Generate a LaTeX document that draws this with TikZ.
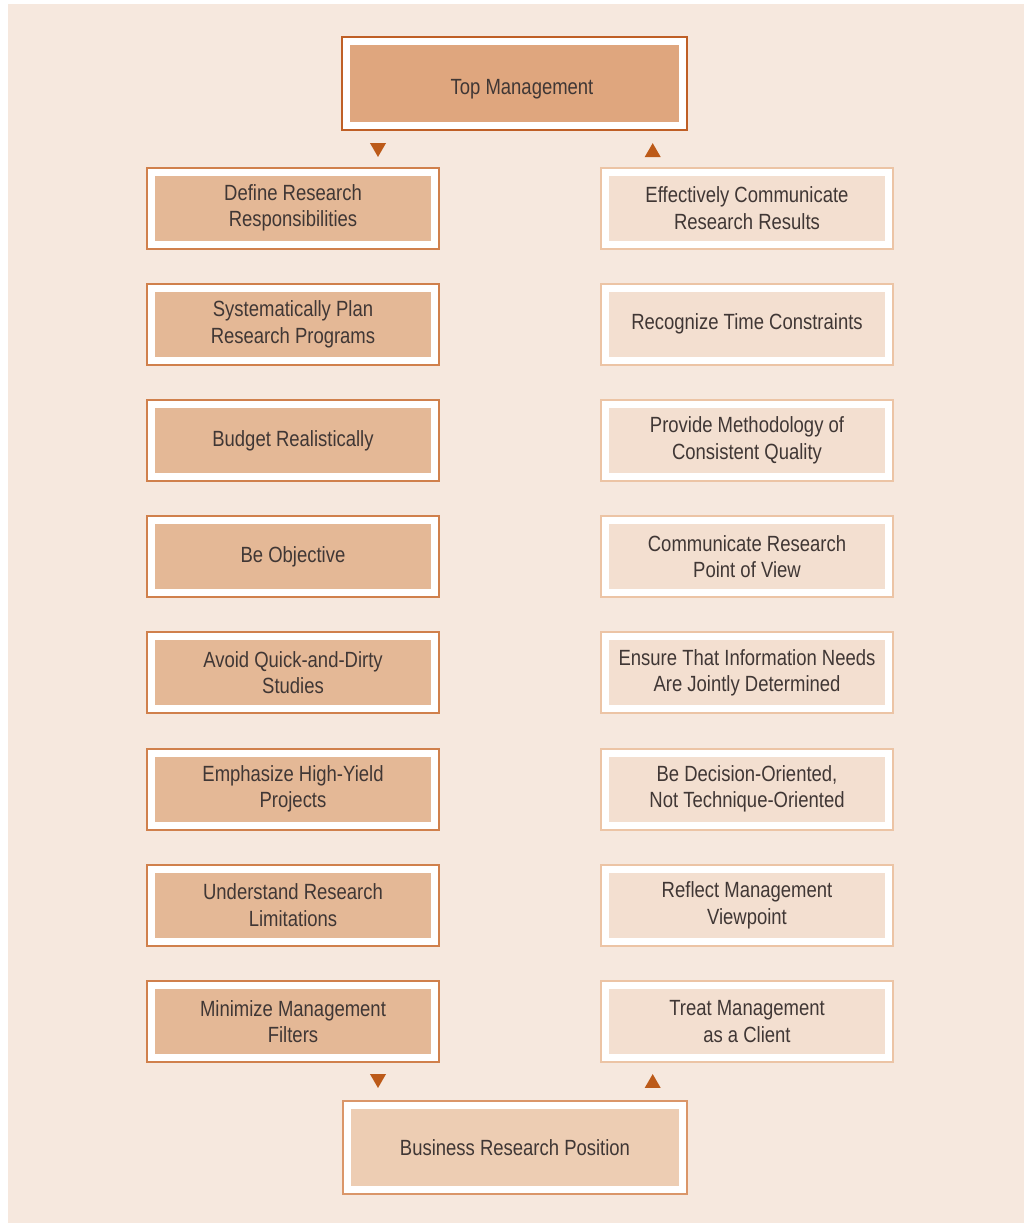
\documentclass[tikz,border=0pt]{standalone}
\usepackage{fontspec}
\setmainfont[FakeStretch=0.84]{Liberation Sans}
\usetikzlibrary{shapes.geometric}
\definecolor{bgcol}{HTML}{F6E8DE}
\definecolor{txt}{HTML}{403735}
\definecolor{topfill}{HTML}{DFA67E}
\definecolor{topborder}{HTML}{BF5F26}
\definecolor{leftfill}{HTML}{E4B896}
\definecolor{leftborder}{HTML}{D0804C}
\definecolor{rightfill}{HTML}{F3DFD0}
\definecolor{rightborder}{HTML}{ECC4A5}
\definecolor{botfill}{HTML}{EDCDB3}
\definecolor{botborder}{HTML}{DA9669}
\definecolor{arrowcol}{HTML}{BC5A19}
\tikzset{
  boxbase/.style={rectangle, minimum width=283bp, minimum height=72bp, inner sep=0pt,
    line width=7bp, draw=white, align=center, text=txt,
    font=\fontsize{22bp}{26.5bp}\selectfont},
  leftbox/.style={boxbase, fill=leftfill, preaction={draw=leftborder, line width=11bp}},
  rightbox/.style={boxbase, fill=rightfill, preaction={draw=rightborder, line width=11bp}},
  topbox/.style={boxbase, minimum width=336bp, minimum height=84bp, fill=topfill,
    preaction={draw=topborder, line width=11bp}},
  botbox/.style={boxbase, minimum width=335bp, minimum height=84bp, fill=botfill,
    preaction={draw=botborder, line width=11bp}},
  tri/.style={regular polygon, regular polygon sides=3, minimum size=18.5bp,
    inner sep=0pt, outer sep=0pt, fill=arrowcol, draw=none},
  tridown/.style={tri, shape border rotate=180},
}
\begin{document}
\begin{tikzpicture}[x=1bp,y=-1bp]
\useasboundingbox (0,0) rectangle (1027,1223);
\fill[bgcol] (8,4) rectangle (1024,1223);

\node[topbox] (top) at (514.5,83.5) {\raisebox{-5.5bp}[\height][\depth]{\hspace*{15bp}Top Management}};
\node[botbox] (bot) at (515,1147.5) {Business Research Position};

\foreach \i/\t in {0/{Define Research\\Responsibilities},
                   1/{Systematically Plan\\Research Programs},
                   2/{Budget Realistically},
                   3/{Be Objective},
                   4/{Avoid Quick-and-Dirty\\Studies},
                   5/{Emphasize High-Yield\\Projects},
                   6/{Understand Research\\Limitations},
                   7/{Minimize Management\\Filters}}{
  \node[leftbox] (L\i) at (293,{208+116.2*\i}) {\t};
}
\foreach \i/\t in {0/{Effectively Communicate\\Research Results},
                   1/{Recognize Time Constraints},
                   2/{Provide Methodology of\\Consistent Quality},
                   3/{Communicate Research\\Point of View},
                   4/{Ensure That Information Needs\\Are Jointly Determined},
                   5/{Be Decision-Oriented,\\Not Technique-Oriented},
                   6/{Reflect Management\\Viewpoint},
                   7/{Treat Management\\as a Client}}{
  \node[rightbox] (R\i) at (747,{208+116.2*\i}) {\t};
}

\node[tridown] (dtop) at (378,147.7) {};
\node[tri] (utop) at (652.7,152.4) {};
\node[tridown] (dbot) at (378,1078.7) {};
\node[tri] (ubot) at (652.7,1083.3) {};
\end{tikzpicture}
\end{document}
